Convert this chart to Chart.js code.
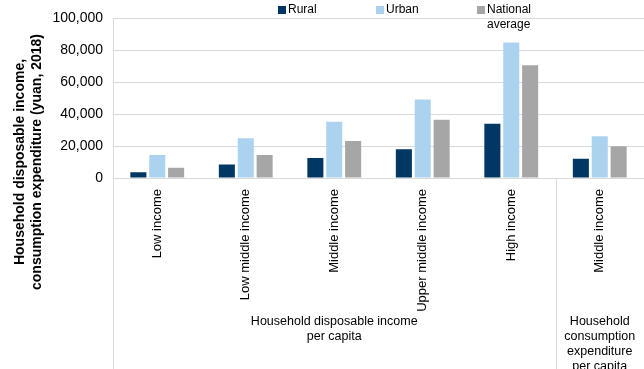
<!DOCTYPE html>
<html>
<head>
<meta charset="utf-8">
<script src="https://cdn.jsdelivr.net/npm/chart.js@4"></script>
<style>
  html, body { margin: 0; padding: 0; background: #fff; }
  #wrap { width: 644px; height: 369px; }
</style>
</head>
<body>
<div id="wrap"><canvas id="chart" width="644" height="369"></canvas></div>
<script>
const categories = ["Low income", "Low middle income", "Middle income", "Upper middle income", "High income", "Middle income"];
const rural = [3666, 8508, 12530, 18051, 34043, 12124];
const urban = [14387, 24857, 35196, 49174, 84907, 26112];
const national = [6440, 14361, 23189, 36471, 70640, 19853];
const seriesNames = ["Rural", "Urban", ["National", "average"]];
const seriesColors = ["#003863", "#abd3f0", "#a6a6a6"];
const groups = [
  { label: ["Household disposable income", "per capita"], from: 0, to: 4 },
  { label: ["Household", "consumption", "expenditure", "per capita"], from: 5, to: 5 }
];
const yTitle = ["Household disposable income,", "consumption expenditure (yuan, 2018)"];

const FONT = "Arial, 'Liberation Sans', sans-serif";

// legend, axis title, group labels and separator lines
const extras = {
  id: "extras",
  afterDraw(chart) {
    const ctx = chart.ctx;
    const area = chart.chartArea;
    const x = chart.scales.x;
    const h = chart.height;
    ctx.save();

    // separators below the axis
    ctx.strokeStyle = "#d9d9d9";
    ctx.lineWidth = 1;
    const seps = [area.left];
    groups.slice(1).forEach(g => {
      seps.push((x.getPixelForTick(g.from - 1) + x.getPixelForTick(g.from)) / 2);
    });
    seps.forEach(px => {
      const sx = Math.round(px) + 0.5;
      ctx.beginPath();
      ctx.moveTo(sx, area.bottom);
      ctx.lineTo(sx, h);
      ctx.stroke();
    });

    // group labels
    ctx.fillStyle = "#000";
    ctx.font = "12.5px " + FONT;
    ctx.textAlign = "center";
    ctx.textBaseline = "middle";
    groups.forEach(g => {
      const cx = (x.getPixelForTick(g.from) + x.getPixelForTick(g.to)) / 2;
      g.label.forEach((t, i) => ctx.fillText(t, cx, 322 + i * 15));
    });

    // y title
    ctx.font = "bold 14px " + FONT;
    ctx.translate(0, 162);
    ctx.rotate(-Math.PI / 2);
    ctx.fillText(yTitle[0], 0, 20);
    ctx.fillText(yTitle[1], 0, 37);
    ctx.setTransform(1, 0, 0, 1, 0, 0);

    // legend
    ctx.font = "12px " + FONT;
    ctx.textAlign = "left";
    const lx = [278, 376, 477];
    chart.data.datasets.forEach((ds, i) => {
      ctx.fillStyle = ds.backgroundColor;
      ctx.fillRect(lx[i], 6, 8, 8);
      ctx.fillStyle = "#000";
      const lines = Array.isArray(ds.label) ? ds.label : [ds.label];
      lines.forEach((t, j) => ctx.fillText(t, lx[i] + 10, 10 + j * 15));
    });
    ctx.restore();
  }
};

new Chart(document.getElementById("chart"), {
  type: "bar",
  data: {
    labels: categories,
    datasets: [
      { label: seriesNames[0], data: rural, backgroundColor: seriesColors[0] },
      { label: seriesNames[1], data: urban, backgroundColor: seriesColors[1] },
      { label: seriesNames[2], data: national, backgroundColor: seriesColors[2] }
    ]
  },
  options: {
    responsive: false,
    animation: false,
    categoryPercentage: 0.64,
    barPercentage: 0.85,
    layout: { padding: { top: 18, right: 0, bottom: 0, left: 0 } },
    plugins: {
      legend: { display: false },
      tooltip: { enabled: false }
    },
    scales: {
      x: {
        grid: { display: false },
        border: { display: false },
        ticks: {
          color: "#000",
          font: { family: FONT, size: 13 },
          minRotation: 90,
          maxRotation: 90,
          autoSkip: false,
          padding: 3
        },
        afterFit(scale) {
          scale.height = 191;
          scale.paddingLeft = 0;
          scale.paddingRight = 0;
        }
      },
      y: {
        min: 0,
        max: 100000,
        grid: { color: "#d9d9d9", drawTicks: false },
        border: { display: true, color: "#d9d9d9" },
        ticks: {
          stepSize: 20000,
          color: "#000",
          padding: 10,
          font: { family: FONT, size: 14 },
          callback: v => v.toLocaleString("en-US")
        },
        afterFit(scale) {
          scale.width = 113;
        }
      }
    }
  },
  plugins: [extras]
});
</script>
</body>
</html>
